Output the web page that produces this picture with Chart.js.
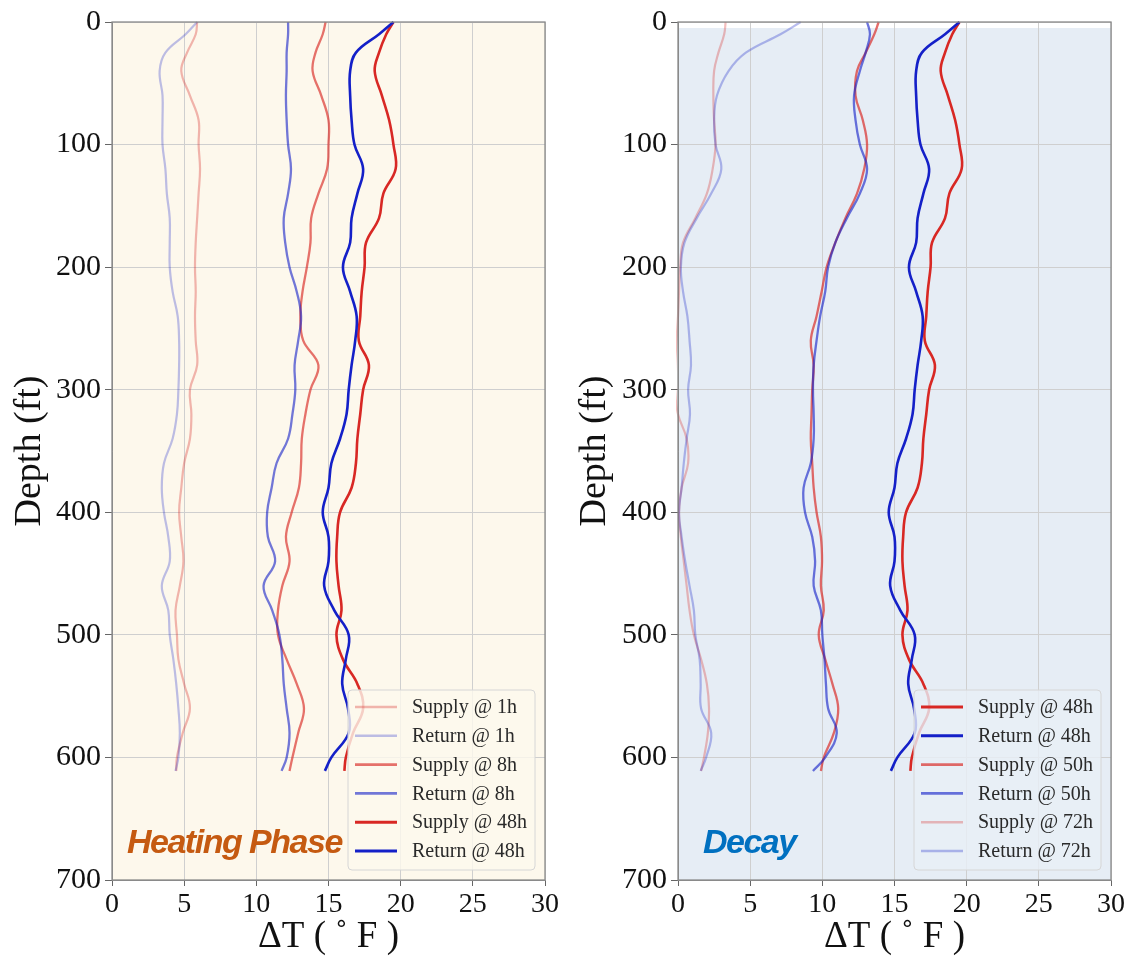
<!DOCTYPE html>
<html>
<head>
<meta charset="utf-8">
<script src="https://cdn.jsdelivr.net/npm/chart.js@4/dist/chart.umd.min.js"></script>
<style>
  body { margin: 0; background: #fff; }
  .wrap { display: flex; }
  canvas { display: block; }
</style>
</head>
<body>
<div class="wrap">
  <canvas id="heating" width="565" height="959"></canvas>
  <canvas id="decay" width="566" height="959"></canvas>
</div>
<script>
// depth (ft) at which every profile was read
const depths = [0, 10, 25, 40, 60, 80, 100, 120, 140, 160, 180, 200, 220, 240, 260, 280, 300,
                320, 340, 360, 380, 400, 420, 440, 460, 480, 500, 520, 540, 560, 580, 600, 611];

// delta T (F), heating phase
const supply1h  = [5.9, 5.8, 5.2, 4.8, 5.4, 6.0, 6.0, 6.1, 6.0, 5.9, 5.8, 5.75, 5.8, 5.75, 5.8, 5.9, 5.4,
                   5.5, 5.4, 5.0, 4.8, 4.65, 4.8, 4.95, 4.7, 4.4, 4.5, 4.6, 5.0, 5.4, 4.9, 4.5, 4.45];
const return1h  = [5.9, 5.1, 3.7, 3.3, 3.5, 3.5, 3.5, 3.7, 3.8, 4.0, 4.0, 4.0, 4.2, 4.55, 4.65, 4.65, 4.6,
                   4.5, 4.2, 3.6, 3.45, 3.6, 3.9, 4.0, 3.45, 3.9, 4.0, 4.25, 4.45, 4.6, 4.7, 4.6, 4.4];
const supply8h  = [14.8, 14.6, 14.1, 13.9, 14.5, 15.0, 15.0, 14.9, 14.3, 13.8, 13.75, 13.5, 13.2, 13.05, 13.25, 14.3, 13.75,
                   13.4, 13.15, 13.1, 12.95, 12.45, 12.05, 12.3, 11.8, 11.5, 11.5, 12.1, 12.8, 13.3, 12.9, 12.5, 12.3];
const return8h  = [12.2, 12.2, 12.1, 12.1, 12.05, 12.1, 12.2, 12.4, 12.2, 11.9, 12.0, 12.3, 12.8, 13.1, 12.9, 12.65, 12.7,
                   12.5, 12.2, 11.4, 11.06, 10.75, 10.8, 11.3, 10.5, 11.1, 11.6, 11.8, 11.9, 12.1, 12.3, 12.1, 11.75];
const supply48h = [19.5, 19.0, 18.5, 18.2, 18.7, 19.2, 19.5, 19.65, 18.8, 18.5, 17.6, 17.5, 17.3, 17.2, 17.1, 17.8, 17.4,
                   17.2, 17.0, 16.9, 16.6, 15.8, 15.6, 15.55, 15.7, 15.9, 15.55, 16.0, 17.0, 17.4, 16.7, 16.2, 16.1];
const return48h = [19.5, 18.5, 16.9, 16.5, 16.5, 16.6, 16.8, 17.4, 17.0, 16.6, 16.5, 16.0, 16.5, 16.95, 16.85, 16.6, 16.4,
                   16.25, 15.8, 15.2, 15.0, 14.6, 15.0, 15.0, 14.7, 15.4, 16.4, 16.2, 15.95, 16.35, 16.4, 15.2, 14.75];

// delta T (F), decay
const supply50h = [13.9, 13.6, 13.0, 12.4, 12.3, 12.8, 13.1, 12.9, 12.4, 11.6, 10.9, 10.3, 9.95, 9.6, 9.2, 9.4, 9.3,
                   9.25, 9.2, 9.3, 9.4, 9.6, 9.9, 9.98, 9.9, 10.1, 9.75, 10.2, 10.7, 11.1, 10.8, 10.1, 9.9];
const return50h = [13.1, 13.3, 13.0, 12.6, 12.2, 12.3, 12.6, 13.1, 12.6, 11.7, 10.9, 10.4, 10.2, 9.85, 9.6, 9.4, 9.35,
                   9.4, 9.4, 9.2, 8.7, 8.8, 9.3, 9.5, 9.4, 9.9, 10.0, 10.15, 10.25, 10.4, 11.0, 10.2, 9.35];
const supply72h = [3.3, 3.2, 2.8, 2.5, 2.45, 2.5, 2.6, 2.4, 2.0, 1.2, 0.35, 0.15, 0.07, 0.0, -0.1, -0.2, -0.2,
                   0.0, 0.6, 0.7, 0.25, 0.07, 0.2, 0.4, 0.6, 0.8, 1.1, 1.6, 2.0, 2.15, 2.07, 1.8, 1.6];
const return72h = [8.5, 7.1, 4.7, 3.5, 2.7, 2.5, 2.6, 3.0, 2.3, 1.3, 0.45, 0.2, 0.35, 0.65, 0.8, 0.9, 0.7,
                   0.83, 0.6, 0.4, 0.25, 0.07, 0.25, 0.5, 0.8, 1.1, 1.2, 1.5, 1.57, 1.6, 2.3, 1.95, 1.57];

const deltaTRange = [0, 30];
const depthRange = [0, 700];

const red = (a) => 'rgba(216, 40, 36, ' + a + ')';
const blue = (a) => 'rgba(20, 32, 200, ' + a + ')';
const serif = '"Liberation Serif", "Times New Roman", serif';

function profile(t_label, t_values, t_color, t_width) {
    return {
        label: t_label,
        data: depths.map((d, i) => ({ x: t_values[i], y: d })),
        showLine: true,
        borderColor: t_color,
        backgroundColor: t_color,
        borderWidth: t_width,
        pointRadius: 0,
        tension: 0.4,
        clip: { left: 2, top: 3, right: 3, bottom: 3 }
    };
}

// background, frame, legend box and phase label
const panelPlugin = {
    id: 'panel',
    beforeDraw(chart, args, opts) {
        const a = chart.chartArea, ctx = chart.ctx;
        ctx.save();
        ctx.fillStyle = opts.bg;
        ctx.fillRect(a.left, a.top + opts.bgTop, a.right - a.left, a.bottom - a.top - opts.bgTop);
        ctx.restore();
    },
    afterDraw(chart, args, opts) {
        const a = chart.chartArea, ctx = chart.ctx;
        ctx.save();
        ctx.strokeStyle = '#8a8a8a';
        ctx.lineWidth = 1.3;
        ctx.strokeRect(a.left, a.top, a.right - a.left, a.bottom - a.top);

        // legend
        const sets = chart.data.datasets;
        const w = 187, h = 180;
        const bx = a.right - 10 - w, by = a.bottom - 10 - h;
        ctx.beginPath();
        ctx.roundRect(bx, by, w, h, 4);
        ctx.fillStyle = opts.legendBg;
        ctx.fill();
        ctx.strokeStyle = '#d6d6d6';
        ctx.lineWidth = 1;
        ctx.stroke();
        ctx.font = '20px ' + serif;
        ctx.textBaseline = 'middle';
        sets.forEach((s, i) => {
            const y = by + 17 + i * 28.8;
            ctx.strokeStyle = s.borderColor;
            ctx.lineWidth = s.borderWidth + 0.4;
            ctx.beginPath();
            ctx.moveTo(bx + 7, y);
            ctx.lineTo(bx + 49, y);
            ctx.stroke();
            ctx.fillStyle = '#2a2a2a';
            ctx.fillText(s.label, bx + 64, y + 1);
        });

        // phase label
        ctx.font = 'italic bold 34px "Liberation Sans", Arial, sans-serif';
        ctx.letterSpacing = '-1.5px';
        ctx.fillStyle = opts.labelColor;
        ctx.textBaseline = 'alphabetic';
        ctx.fillText(opts.label, a.left + opts.labelX, a.bottom - 27);
        ctx.restore();
    }
};

function createChart(t_elementId, t_datasets, t_panel, t_axisWidth) {
    new Chart(document.getElementById(t_elementId), {
        type: 'scatter',
        data: { datasets: t_datasets.map((d, i) => Object.assign(d, { order: t_datasets.length - i })) },
        plugins: [panelPlugin],
        options: {
            responsive: false,
            animation: false,
            layout: { padding: { left: 0, right: 20, top: 21, bottom: 0 } },
            plugins: {
                legend: { display: false },
                tooltip: { enabled: false },
                panel: t_panel
            },
            scales: {
                x: {
                    type: 'linear',
                    min: deltaTRange[0],
                    max: deltaTRange[1],
                    ticks: { stepSize: 5, color: '#111', font: { family: serif, size: 28 }, padding: 2 },
                    grid: { color: '#cfcfcf', tickColor: '#666', tickLength: 6 },
                    border: { color: '#8a8a8a' },
                    title: { display: true, text: 'ΔT ( ˚ F )', color: '#111', font: { family: serif, size: 37 }, padding: 0 },
                    afterFit: (s) => { s.height = 79; }
                },
                y: {
                    type: 'linear',
                    reverse: true,
                    min: depthRange[0],
                    max: depthRange[1],
                    ticks: { stepSize: 100, color: '#111', font: { family: serif, size: 30 }, padding: 4 },
                    grid: { color: '#cfcfcf', tickColor: '#666', tickLength: 7 },
                    border: { color: '#8a8a8a' },
                    title: { display: true, text: 'Depth (ft)', color: '#111', font: { family: serif, size: 38 }, padding: 7 },
                    afterFit: (s) => { s.width = t_axisWidth; }
                }
            }
        }
    });
}

createChart('heating', [
    profile('Supply @ 1h', supply1h, red(0.33), 2.2),
    profile('Return @ 1h', return1h, blue(0.28), 2.2),
    profile('Supply @ 8h', supply8h, red(0.65), 2.3),
    profile('Return @ 8h', return8h, blue(0.6), 2.3),
    profile('Supply @ 48h', supply48h, red(1), 2.6),
    profile('Return @ 48h', return48h, blue(1), 2.6)
], { bg: '#fdf8ec', bgTop: 0, legendBg: 'rgba(253, 249, 238, 0.8)', label: 'Heating Phase', labelColor: '#c55a11', labelX: 15 }, 112);

createChart('decay', [
    profile('Supply @ 48h', supply48h, red(1), 2.6),
    profile('Return @ 48h', return48h, blue(1), 2.6),
    profile('Supply @ 50h', supply50h, red(0.68), 2.3),
    profile('Return @ 50h', return50h, blue(0.62), 2.3),
    profile('Supply @ 72h', supply72h, red(0.3), 2.2),
    profile('Return @ 72h', return72h, blue(0.3), 2.2)
], { bg: '#e6edf5', bgTop: 6, legendBg: 'rgba(232, 239, 246, 0.8)', label: 'Decay', labelColor: '#0070c0', labelX: 25 }, 113);
</script>
</body>
</html>
